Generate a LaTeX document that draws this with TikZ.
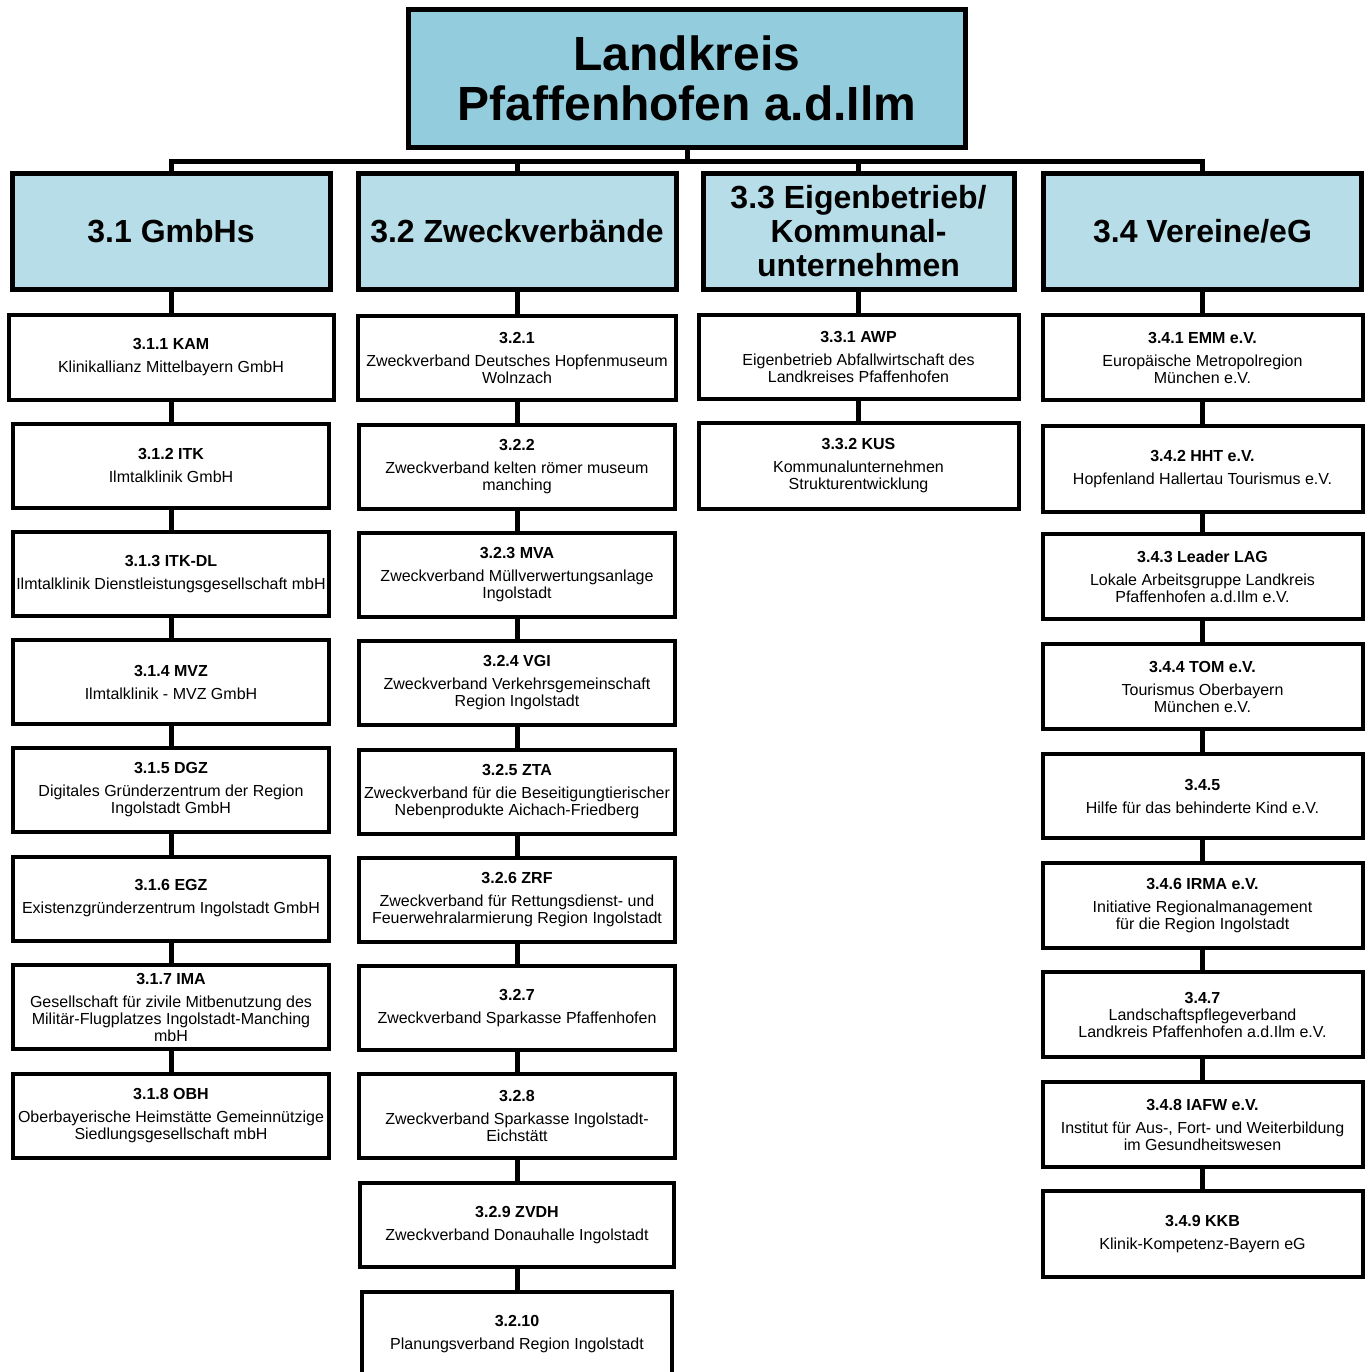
\documentclass[tikz,border=0pt]{standalone}
\usepackage{fontspec}
\setmainfont{Liberation Sans}
\usepackage{tikz}
\usetikzlibrary{positioning}

\definecolor{topblue}{HTML}{93CDDD}
\definecolor{headblue}{HTML}{B7DEE8}

\tikzset{
	topbox/.style={draw, line width=5pt, fill=topblue, minimum width=557pt, minimum height=138pt, inner sep=0pt, align=center, font=\fontsize{48}{50}\selectfont\bfseries},
	headbox/.style={draw, line width=5pt, fill=headblue, minimum width=318pt, minimum height=116pt, inner sep=0pt, align=center, font=\fontsize{32}{34}\selectfont\bfseries},
	item/.style={draw, line width=4pt, fill=white, minimum width=316pt, minimum height=84pt, inner sep=0pt, align=center, font=\fontsize{16}{17}\selectfont},
	link/.style={draw, line width=5pt, line join=miter}
}
\newcommand{\entry}[2]{\textbf{#1}\\[6pt]#2}

\begin{document}
\begin{tikzpicture}[x=1pt,y=-1pt]
	\useasboundingbox (0,0) rectangle (1369,1372);

	\node[topbox] (lk) at (687,78.5) {Landkreis\\Pfaffenhofen a.d.Ilm};

	\node[headbox] (gmbh) at (171,231.5) {3.1 GmbHs};
	\node[headbox] (zv) at (517,231.5) {3.2 Zweckverbände};
	\node[headbox, minimum width=311pt] (eb) at (858.5,231.5) {3.3 Eigenbetrieb/\\Kommunal-\\unternehmen};
	\node[headbox] (ver) at (1202.5,231.5) {3.4 Vereine/eG};

	% 3.1
	\node[item, minimum width=325pt, minimum height=85pt] (g1) at (171,357.5) {\entry{3.1.1 KAM}{Klinikallianz Mittelbayern GmbH}};
	\node[item] (g2) at (171,465.5) {\entry{3.1.2 ITK}{Ilmtalklinik GmbH}};
	\node[item] (g3) at (171,574) {\entry{3.1.3 ITK-DL}{Ilmtalklinik Dienstleistungsgesellschaft mbH}};
	\node[item] (g4) at (171,682) {\entry{3.1.4 MVZ}{Ilmtalklinik - MVZ GmbH}};
	\node[item] (g5) at (171,790) {\entry{3.1.5 DGZ}{Digitales Gründerzentrum der Region\\Ingolstadt GmbH}};
	\node[item] (g6) at (171,898.5) {\entry{3.1.6 EGZ}{Existenzgründerzentrum Ingolstadt GmbH}};
	\node[item] (g7) at (171,1007) {\entry{3.1.7 IMA}{Gesellschaft für zivile Mitbenutzung des\\Militär-Flugplatzes Ingolstadt-Manching\\mbH}};
	\node[item] (g8) at (171,1115.5) {\entry{3.1.8 OBH}{Oberbayerische Heimstätte Gemeinnützige\\Siedlungsgesellschaft mbH}};

	% 3.2
	\node[item, minimum width=318pt] (z1) at (517,357.5) {\entry{3.2.1}{Zweckverband Deutsches Hopfenmuseum\\Wolnzach}};
	\node[item, minimum width=316pt] (z2) at (517,466.5) {\entry{3.2.2}{Zweckverband kelten römer museum\\manching}};
	\node[item] (z3) at (517,575) {\entry{3.2.3 MVA}{Zweckverband Müllverwertungsanlage\\Ingolstadt}};
	\node[item] (z4) at (517,683) {\entry{3.2.4 VGI}{Zweckverband Verkehrsgemeinschaft\\Region Ingolstadt}};
	\node[item] (z5) at (517,791.5) {\entry{3.2.5 ZTA}{Zweckverband für die Beseitigungtierischer\\Nebenprodukte Aichach-Friedberg}};
	\node[item] (z6) at (517,899.5) {\entry{3.2.6 ZRF}{Zweckverband für Rettungsdienst- und\\Feuerwehralarmierung Region Ingolstadt}};
	\node[item] (z7) at (517,1008) {\entry{3.2.7}{Zweckverband Sparkasse Pfaffenhofen}};
	\node[item] (z8) at (517,1116) {\entry{3.2.8}{Zweckverband Sparkasse Ingolstadt-\\Eichstätt}};
	\node[item, minimum width=314pt] (z9) at (517,1225) {\entry{3.2.9 ZVDH}{Zweckverband Donauhalle Ingolstadt}};
	\node[item, minimum width=310pt] (z10) at (517,1334) {\entry{3.2.10}{Planungsverband Region Ingolstadt}};

	% 3.3
	\node[item, minimum width=320pt] (e1) at (858.5,356.5) {\entry{3.3.1 AWP}{Eigenbetrieb Abfallwirtschaft des\\Landkreises Pfaffenhofen}};
	\node[item, minimum width=320pt, minimum height=86pt] (e2) at (858.5,466) {\entry{3.3.2 KUS}{Kommunalunternehmen\\Strukturentwicklung}};

	% 3.4
	\node[item, minimum width=320pt, minimum height=85pt] (v1) at (1202.5,357.5) {\entry{3.4.1 EMM e.V.}{Europäische Metropolregion\\München e.V.}};
	\node[item, minimum width=320pt, minimum height=86pt] (v2) at (1202.5,469) {\entry{3.4.2 HHT e.V.}{Hopfenland Hallertau Tourismus e.V.}};
	\node[item, minimum width=320pt, minimum height=85pt] (v3) at (1202.5,576.5) {\entry{3.4.3 Leader LAG}{Lokale Arbeitsgruppe Landkreis\\Pfaffenhofen a.d.Ilm e.V.}};
	\node[item, minimum width=320pt, minimum height=85pt] (v4) at (1202.5,686.5) {\entry{3.4.4 TOM e.V.}{Tourismus Oberbayern\\München e.V.}};
	\node[item, minimum width=320pt, minimum height=84pt] (v5) at (1202.5,796) {\entry{3.4.5}{Hilfe für das behinderte Kind e.V.}};
	\node[item, minimum width=320pt, minimum height=85pt] (v6) at (1202.5,905.5) {\entry{3.4.6 IRMA e.V.}{Initiative Regionalmanagement\\für die Region Ingolstadt}};
	\node[item, minimum width=320pt, minimum height=85pt] (v7) at (1202.5,1014.5) {\textbf{3.4.7}\\Landschaftspflegeverband\\Landkreis Pfaffenhofen a.d.Ilm e.V.};
	\node[item, minimum width=320pt, minimum height=85pt] (v8) at (1202.5,1124.5) {\entry{3.4.8 IAFW e.V.}{Institut für Aus-, Fort- und Weiterbildung\\im Gesundheitswesen}};
	\node[item, minimum width=320pt, minimum height=86pt] (v9) at (1202.5,1234) {\entry{3.4.9 KKB}{Klinik-Kompetenz-Bayern eG}};

	% bus below the top box
	\coordinate (bus) at (687,162);
	\draw[link] (lk.south) -- (bus);
	\foreach \h in {gmbh,zv,eb,ver}
		\draw[link] (bus) -| (\h.north);

	% chains
	\foreach \a/\b in {gmbh/g1,g1/g2,g2/g3,g3/g4,g4/g5,g5/g6,g6/g7,g7/g8,
		zv/z1,z1/z2,z2/z3,z3/z4,z4/z5,z5/z6,z6/z7,z7/z8,z8/z9,z9/z10,
		eb/e1,e1/e2,
		ver/v1,v1/v2,v2/v3,v3/v4,v4/v5,v5/v6,v6/v7,v7/v8,v8/v9}
		\draw[link] (\a.south) -- (\b.north);
\end{tikzpicture}
\end{document}
